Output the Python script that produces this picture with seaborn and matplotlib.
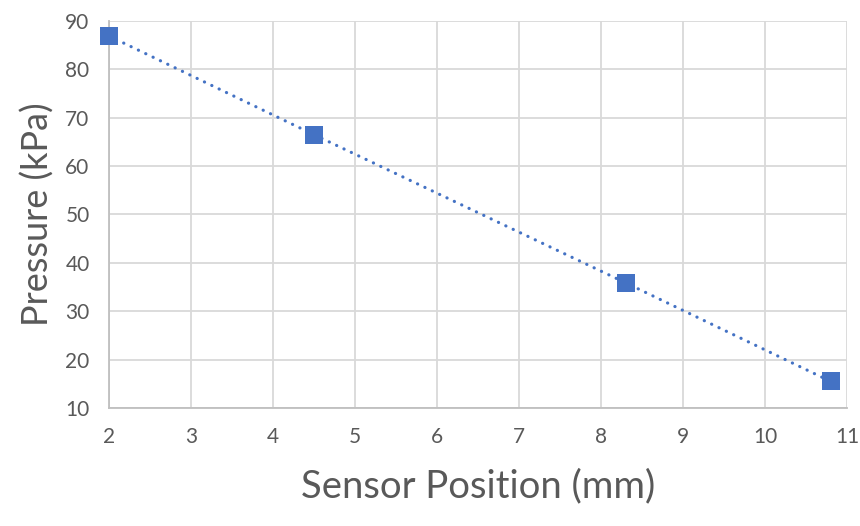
import matplotlib
matplotlib.use("Agg")
import matplotlib.pyplot as plt
import seaborn as sns
import pandas as pd

sensor_position_mm = [2.0, 4.5, 8.31, 10.8]
pressure_kpa = [86.9, 66.5, 35.8, 15.5]
x_ticks = [2, 3, 4, 5, 6, 7, 8, 9, 10, 11]
y_ticks = [10, 20, 30, 40, 50, 60, 70, 80, 90]

sns.set_theme(style="white")
plt.rcParams['font.family'] = ['Lato', 'DejaVu Sans']

df = pd.DataFrame({"x": sensor_position_mm, "y": pressure_kpa})

fig = plt.figure(figsize=(8.6, 5.26), dpi=100)
ax = fig.add_axes([109/860, 1-408/526, (847-109)/860, (408-21)/526])

blue = "#4472C4"
sns.lineplot(data=df, x="x", y="y", ax=ax, color=blue, linestyle=(0, (0.05, 2.5)),
             linewidth=2.3, zorder=3)
for ln in ax.lines:
    ln.set_dash_capstyle("round")
sns.scatterplot(data=df, x="x", y="y", ax=ax, color=blue, marker="s", s=150,
                edgecolor=blue, linewidth=0, zorder=4, clip_on=False)

ax.set_xlim(2, 11)
ax.set_ylim(10, 90)
ax.set_xticks(x_ticks)
ax.set_yticks(y_ticks)
ax.grid(True, color="#d9d9d9", linewidth=1.3)
ax.set_axisbelow(True)
for s in ["top", "right"]:
    ax.spines[s].set_visible(False)
for s in ["left", "bottom"]:
    ax.spines[s].set_color("#bfbfbf")
    ax.spines[s].set_linewidth(1.3)
ax.tick_params(axis="both", length=0, labelsize=15, labelcolor="#595959")
ax.tick_params(axis="y", pad=14)
ax.tick_params(axis="x", pad=14)
ax.set_xlabel("Sensor Position (mm)", fontsize=27.5, color="#595959", labelpad=15)
ax.set_ylabel("Pressure (kPa)", fontsize=26, color="#595959", labelpad=8)

fig.savefig("out.png", dpi=100)
